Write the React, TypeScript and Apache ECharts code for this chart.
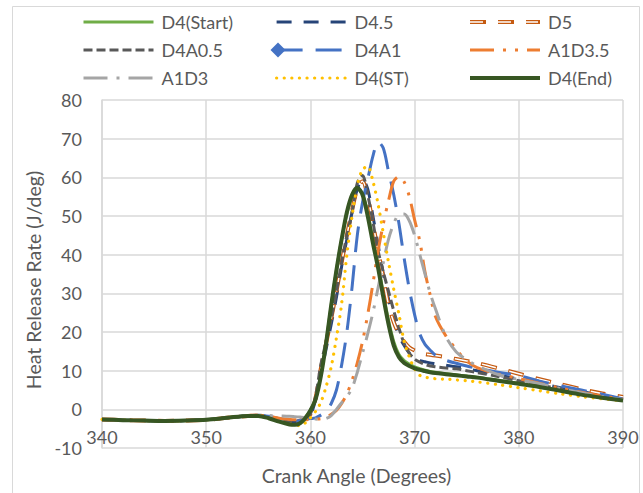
import React, { useEffect, useRef } from "react";
import * as echarts from "echarts";

// Crank angle grid (degrees) shared by every series
const crankAngle = [
  340, 342, 344, 346, 348, 350, 352, 354, 355, 356, 357, 358, 358.5, 359, 359.5,
  360, 360.5, 361, 361.5, 362, 362.5, 363, 363.5, 364, 364.5, 365, 365.5, 366,
  366.5, 367, 367.5, 368, 368.5, 369, 369.5, 370, 370.5, 371, 371.5, 372, 373,
  374, 375, 376, 378, 380, 382, 384, 386, 388, 390,
];

// Heat release rate (J/deg) per test case
const d4Start = [
  -2.6, -2.8, -2.9, -3.0, -2.9, -2.7, -2.2, -1.7, -1.7, -2.2, -3.0, -3.7, -3.8, -3.4, -2.1,
  -0.2, 2.8, 8.8, 17.2, 27, 36, 44, 50.5, 55, 57, 55.8, 50.8, 44,
  37.5, 30, 23, 17.5, 14.2, 12.6, 11.7, 11.0, 10.5, 10.1, 9.8, 9.6, 9.2,
  8.9, 8.6, 8.3, 7.5, 6.7, 5.8, 4.8, 3.8, 3.0, 2.3,
];
const d45 = [
  -2.6, -2.8, -2.9, -3.0, -2.9, -2.7, -2.2, -1.7, -1.6, -2.0, -2.7, -3.2, -3.3, -3.0, -2.4,
  -1.5, 2.5, 9, 15.5, 22, 29, 37, 44, 51, 57, 59.5, 57, 50,
  42.5, 35, 28.5, 23, 19, 16.5, 14.5, 13.2, 12.6, 12.3, 12.0, 11.8, 11.4,
  11.0, 10.5, 10.0, 8.9, 7.8, 6.7, 5.6, 4.6, 3.6, 2.7,
];
const d5 = [
  -2.6, -2.8, -2.9, -3.0, -2.9, -2.7, -2.2, -1.7, -1.6, -2.0, -2.6, -3.1, -3.2, -2.9, -2.3,
  -1.3, 3, 10.5, 17, 23.5, 30.5, 38, 45, 51.5, 57, 59, 55, 48,
  41, 34, 27, 22.5, 19.5, 17.5, 16, 15.2, 14.6, 14.3, 14.1, 13.9, 13.5,
  13.0, 12.5, 12.0, 10.6, 9.2, 7.8, 6.5, 5.2, 4.1, 3.2,
];
const d4a05 = [
  -2.6, -2.8, -2.9, -3.0, -2.9, -2.7, -2.2, -1.7, -1.6, -2.1, -2.8, -3.3, -3.4, -3.0, -2.3,
  -1.2, 3.5, 11.5, 17.5, 23.5, 30.5, 38, 45, 51, 58.5, 60.5, 55.5, 48.5,
  41, 35.5, 30.5, 25.5, 21, 17, 14.5, 13, 12.2, 11.6, 11.2, 11, 10.7,
  10.5, 10, 9.5, 8.5, 7.4, 6.3, 5.3, 4.3, 3.4, 2.6,
];
const d4a1 = [
  -2.6, -2.8, -2.9, -3.0, -2.9, -2.7, -2.2, -1.6, -1.5, -1.8, -2.4, -2.8, -3.0, -2.9, -2.6,
  -2.4, -2.2, -1.5, -0.5, 1.5, 5, 11.5, 20, 31.6, 45, 53.5, 59.5, 65.5,
  69.2, 67.5, 61.5, 55.5, 48, 39, 31, 24.5, 19.5, 16.8, 15.3, 14, 12.7,
  11.9, 11.2, 10.6, 9.6, 8.7, 7.3, 6.1, 5.0, 3.9, 2.7,
];
const a1d35 = [
  -2.6, -2.8, -2.9, -3.0, -2.9, -2.7, -2.2, -1.6, -1.5, -1.8, -2.3, -2.6, -2.7, -2.7, -2.7,
  -2.6, -2.5, -2.4, -2.0, -1.3, -0.3, 1.5, 4, 7.5, 12, 17.5, 24.5, 32.5,
  41, 48, 54, 59, 60.2, 58.8, 55, 49, 43.5, 35.5, 29.5, 24, 19,
  15.5, 12.5, 10.8, 9.1, 8.0, 6.7, 5.5, 4.4, 3.4, 2.6,
];
const a1d3 = [
  -2.6, -2.8, -2.9, -3.0, -2.9, -2.7, -2.2, -1.6, -1.5, -1.6, -1.7, -1.8, -1.9, -2.0, -2.1,
  -2.3, -2.5, -2.6, -2.4, -1.6, 0, 1.7, 3.3, 5.5, 9.6, 14.5, 19.5, 25,
  31.5, 38, 44, 48, 50.4, 50.5, 48.7, 45, 40, 35, 30, 26, 18.8,
  14.8, 12.8, 11.3, 9.0, 7.7, 6.6, 5.4, 4.3, 3.3, 2.5,
];
const d4St = [
  -2.6, -2.8, -2.9, -3.0, -2.9, -2.7, -2.2, -1.7, -1.7, -2.3, -3.1, -3.8, -4.1, -4.2, -3.5,
  -2.2, -0.5, 1.8, 5.8, 11, 18.5, 27.3, 40, 50, 58, 62, 62.8, 59,
  53, 45.5, 38, 31, 24.5, 17.5, 13.5, 10.5, 8.8, 8.3, 8.1, 7.9, 7.8,
  7.6, 7.4, 7.1, 6.4, 5.6, 4.8, 4.0, 3.3, 2.7, 2.2,
];
const d4End = [
  -2.6, -2.8, -2.9, -3.0, -2.9, -2.7, -2.2, -1.7, -1.7, -2.3, -3.2, -3.9, -4.0, -3.6, -2.3,
  -0.3, 2.6, 8.5, 17, 27, 36, 44, 51, 55.5, 57.3, 55.5, 50, 43,
  36.5, 29, 22, 16.5, 13.5, 12, 11.2, 10.6, 10.2, 9.9, 9.6, 9.4, 9.1,
  8.8, 8.5, 8.2, 7.4, 6.6, 5.8, 4.8, 3.8, 3.0, 2.3,
];

// Axis ranges and ticks
const xTicks = { min: 340, max: 390, step: 10 };
const yTicks = { min: -10, max: 80, step: 10 };

const legendColumns = [
  ["D4(Start)", "D4A0.5", "A1D3"],
  ["D4.5", "D4A1", "D4(ST)"],
  ["D5", "A1D3.5", "D4(End)"],
];

const FONT = "Lato";
const TEXT = "#595959";
const GRID = "#d9d9d9";

const pairs = (values: number[]) => crankAngle.map((a, i) => [a, values[i]]);

const lineSeries = (
  name: string,
  values: number[],
  color: string,
  width: number,
  type: any,
  extra: Record<string, any> = {}
) => ({
  name,
  type: "line",
  data: pairs(values),
  symbol: "none",
  smooth: 0.3,
  silent: true,
  itemStyle: { color },
  lineStyle: { color, width, type, cap: "butt", join: "round", ...extra },
});

export default function App() {
  const ref = useRef<HTMLDivElement>(null);

  useEffect(() => {
    const chart = echarts.init(ref.current!, null, { renderer: "svg" });

    const legendBase = {
      orient: "vertical",
      top: 13,
      padding: 0,
      itemWidth: 70,
      itemHeight: 14,
      itemGap: 10,
      selectedMode: false,
      itemStyle: { opacity: 0 },
      lineStyle: { width: "inherit" },
      textStyle: { color: TEXT, fontSize: 18, fontFamily: FONT, padding: [0, 0, 0, 3] },
    };

    chart.setOption({
      animation: false,
      backgroundColor: "#ffffff",
      textStyle: { fontFamily: FONT },
      grid: {
        left: 102,
        right: 20,
        top: 100,
        bottom: 45,
        containLabel: false,
        outerBoundsMode: "none",
      },
      legend: legendColumns.map((names, i) => ({
        ...legendBase,
        left: [82, 275, 468][i],
        data: names,
      })),
      xAxis: {
        type: "value",
        min: xTicks.min,
        max: xTicks.max,
        interval: xTicks.step,
        axisLine: { show: false, onZero: false },
        axisTick: { show: false },
        // tick labels sit just under the zero line, inside the plot
        axisLabel: { color: TEXT, fontSize: 18, fontFamily: FONT, margin: -20 },
        splitLine: { show: true, lineStyle: { color: GRID, width: 1.5 } },
        name: "Crank Angle (Degrees)",
        nameLocation: "middle",
        nameGap: 17,
        nameTextStyle: {
          color: TEXT,
          fontSize: 19.5,
          fontFamily: FONT,
          verticalAlign: "top",
          padding: [0, 12, 0, 0],
        },
      },
      yAxis: {
        type: "value",
        min: yTicks.min,
        max: yTicks.max,
        interval: yTicks.step,
        axisLine: { show: true, onZero: false, lineStyle: { color: GRID, width: 1.5 } },
        axisTick: { show: false },
        axisLabel: { color: TEXT, fontSize: 18, fontFamily: FONT, margin: 20 },
        splitLine: { show: true, lineStyle: { color: GRID, width: 1.5 } },
        name: "Heat Release Rate (J/deg)",
        nameLocation: "middle",
        nameGap: 55,
        nameTextStyle: { color: TEXT, fontSize: 19.5, fontFamily: FONT, padding: [0, 12, 0, 0] },
      },
      series: [
        lineSeries("D4(Start)", d4Start, "#70AD47", 3, "solid"),
        lineSeries("D4.5", d45, "#264478", 3, [15, 12]),
        lineSeries("D5", d5, "#C55A11", 4, [16, 12]),
        lineSeries("D5 core", d5, "#FFFFFF", 1.5, [14, 14], { dashOffset: -1 }),
        lineSeries("D4A0.5", d4a05, "#595959", 3, [9, 4]),
        lineSeries("D4A1", d4a1, "#4472C4", 3, [26, 13]),
        lineSeries("A1D3.5", a1d35, "#ED7D31", 3, [24, 9, 3, 9, 3, 9]),
        lineSeries("A1D3", a1d3, "#A5A5A5", 3, [24, 9, 3, 9]),
        lineSeries("D4(ST)", d4St, "#FFC000", 3.2, [0.1, 7.5], { cap: "round" }),
        lineSeries("D4(End)", d4End, "#375623", 4, "solid"),
      ],
      graphic: [
        {
          type: "rect",
          silent: true,
          z: -10,
          shape: { x: 12.5, y: 6.5, width: 627, height: 520 },
          style: { fill: "none", stroke: GRID, lineWidth: 1 },
        },
        // hollow centre of the D5 legend dashes
        {
          type: "line",
          silent: true,
          z: 100,
          shape: { x1: 468, y1: 22, x2: 538, y2: 22 },
          style: { stroke: "#FFFFFF", lineWidth: 1.5, lineDash: [14, 14], lineDashOffset: -1 },
        },
        // diamond marker on the D4A1 legend entry
        {
          type: "polygon",
          silent: true,
          z: 100,
          shape: { points: [[278, 42.5], [285.5, 50], [278, 57.5], [270.5, 50]] },
          style: { fill: "#4472C4" },
        },
      ],
    });

    return () => chart.dispose();
  }, []);

  return (
    <div
      ref={ref}
      style={{ position: "fixed", left: 0, top: 0, width: 643, height: 493 }}
    />
  );
}
